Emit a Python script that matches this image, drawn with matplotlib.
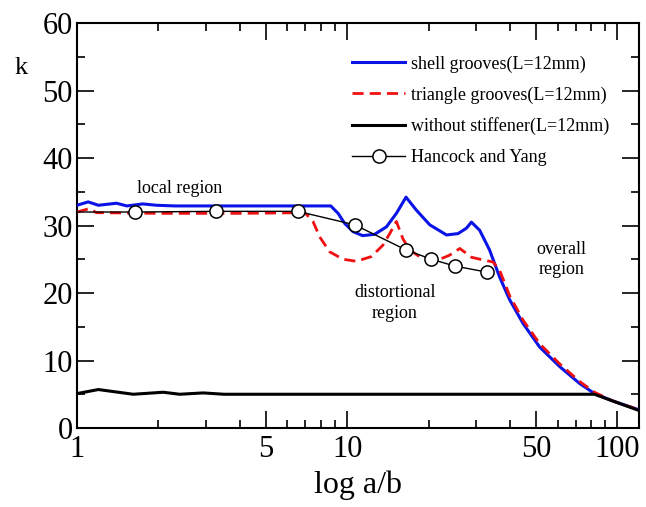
import matplotlib
matplotlib.use("Agg")
import matplotlib.pyplot as plt
from matplotlib.ticker import FixedLocator, FixedFormatter, NullFormatter, MultipleLocator

plt.rcParams['font.family'] = ['Liberation Serif', 'DejaVu Serif']

# shell grooves (L=12mm)
shell_x = [1.0, 1.10, 1.20, 1.40, 1.53, 1.75, 1.97, 2.3, 3.0, 5.0, 8.69, 9.25, 9.79, 10.5, 11.4,
           12.64, 13.96, 15.2, 16.5, 18.0, 20.2, 23.3, 25.7, 27.6, 28.8, 30.9, 33.6, 36.6,
           39.9, 44.7, 51.5, 61.1, 72.4, 82.2, 96.1, 120]
shell_k = [33.0, 33.5, 33.0, 33.3, 32.9, 33.2, 33.0, 32.9, 32.9, 32.9, 32.9, 31.8, 30.3, 29.1, 28.5,
           28.7, 29.8, 31.8, 34.2, 32.3, 30.1, 28.6, 28.8, 29.6, 30.5, 29.3, 26.4, 22.4,
           19.0, 15.5, 12.0, 9.1, 6.6, 5.1, 4.0, 2.7]

# triangle grooves (L=12mm)
tri_x = [1.0, 1.11, 1.18, 2.0, 4.0, 6.97, 7.47, 7.91, 8.61, 9.65, 10.81, 12.28, 13.56, 14.36,
         15.2, 16.08, 17.0, 18.5, 21.4, 23.9, 26.1, 28.8, 31.8, 34.6, 36.6, 39.9, 44.7,
         51.5, 61.1, 72.4, 82.2, 96.1, 120]
tri_k = [32.0, 32.5, 31.9, 31.8, 31.8, 31.9, 30.6, 28.3, 26.1, 25.0, 24.7, 25.4, 27.1, 28.8,
         30.6, 28.0, 26.4, 25.4, 24.8, 25.6, 26.6, 25.3, 24.9, 24.6, 23.4, 19.6, 16.0,
         12.5, 9.5, 6.9, 5.3, 4.0, 2.7]

# without stiffener (L=12mm)
plain_x = [1.0, 1.199, 1.615, 2.085, 2.40, 2.93, 3.5, 10, 40, 82.2, 96.1, 120]
plain_k = [5.1, 5.7, 5.0, 5.3, 5.0, 5.2, 5.0, 5.0, 5.0, 5.0, 4.0, 2.6]

# Hancock and Yang
hy_x = [1.0, 1.64, 3.27, 6.56, 10.66, 16.46, 20.5, 24.96, 32.8]
hy_k = [32.0, 32.0, 32.1, 32.1, 30.1, 26.4, 25.0, 24.0, 23.1]

fig = plt.figure(figsize=(6.46, 5.07), dpi=100)
ax = fig.add_axes([0.1192, 0.1558, 0.8698, 0.7988])

ax.plot(shell_x, shell_k, color='#0a14e6', lw=2.2, label='shell grooves(L=12mm)', zorder=3)
ax.plot(tri_x, tri_k, color='#f01010', lw=2.0, ls=(0, (4, 2.2)), label='triangle grooves(L=12mm)', zorder=4)
ax.plot(plain_x, plain_k, color='black', lw=2.2, label='without stiffener(L=12mm)', zorder=5)
ax.plot(hy_x, hy_k, color='black', lw=1.0, marker='o', ms=9.5, mfc='white', mec='black',
        mew=1.1, markevery=list(range(1, len(hy_x))), label='Hancock and Yang', zorder=6)

ax.set_xscale('log')
ax.set_xlim(1, 120)
ax.set_ylim(0, 60)
ax.xaxis.set_major_locator(FixedLocator([1, 5, 10, 50, 100]))
ax.xaxis.set_major_formatter(FixedFormatter(['1', '5', '10', '50', '100']))
ax.xaxis.set_minor_locator(FixedLocator([2, 3, 4, 6, 7, 8, 9, 20, 30, 40, 60, 70, 80, 90]))
ax.xaxis.set_minor_formatter(NullFormatter())
ax.yaxis.set_major_locator(MultipleLocator(10))
ax.yaxis.set_minor_locator(MultipleLocator(5))

ax.tick_params(which='both', direction='in', top=True, right=True, width=1.2, labelsize=22)
ax.tick_params(axis='x', pad=5)
ax.tick_params(axis='y', pad=3)
ax.tick_params(which='major', length=12)
ax.tick_params(which='minor', length=6)
for s in ax.spines.values():
    s.set_linewidth(1.5)

ax.set_xlabel('log a/b', fontsize=23, labelpad=5)
ax.text(-0.1, 0.89, 'k', transform=ax.transAxes, fontsize=19, ha='center', va='center')

ax.text(2.4, 35.5, 'local region', fontsize=13, ha='center', va='center')
ax.text(15.0, 18.5, 'distortional\nregion', fontsize=13, ha='center', va='center', linespacing=1.35)
ax.text(62.0, 25.0, 'overall\nregion', fontsize=13, ha='center', va='center', linespacing=1.2)

leg = ax.legend(loc='upper left', bbox_to_anchor=(0.49, 0.92), frameon=False, fontsize=13,
                handlelength=2.9, handletextpad=0.33, labelspacing=0.76, borderaxespad=0,
                borderpad=0)

fig.savefig('out.png', dpi=100)
